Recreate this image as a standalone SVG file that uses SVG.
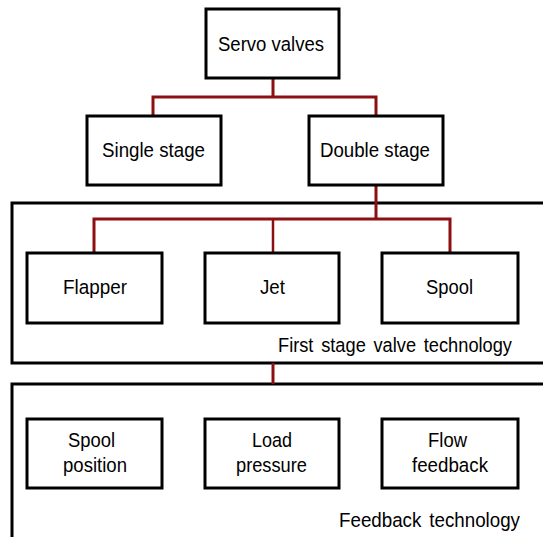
<svg xmlns="http://www.w3.org/2000/svg" width="543" height="537" viewBox="0 0 543 537">
  <style>
    .box { fill: #ffffff; stroke: #000000; stroke-width: 3; }
    .frame { fill: none; stroke: #000000; stroke-width: 3; }
    .link { fill: none; stroke: #8c1010; stroke-width: 3; stroke-linejoin: miter; }
    .lbl { font-family: "Liberation Sans", Arial, sans-serif; font-size: 20.5px; fill: #000000; text-anchor: middle; }
    .cap { font-family: "Liberation Sans", Arial, sans-serif; font-size: 20.5px; fill: #000000; text-anchor: start; word-spacing: 3px; }
  </style>
  <rect width="543" height="537" fill="#ffffff"/>

  <!-- group frames -->
  <g id="first-stage-frame">
    <rect class="frame" x="12" y="203" width="545" height="160"/>
    <text class="cap" x="278" y="352" textLength="234" lengthAdjust="spacingAndGlyphs">First stage valve technology</text>
  </g>
  <g id="feedback-frame">
    <rect class="frame" x="12" y="384" width="545" height="200"/>
    <text class="cap" x="339" y="527" textLength="181" lengthAdjust="spacingAndGlyphs">Feedback technology</text>
  </g>

  <!-- connectors -->
  <g id="connectors">
    <path class="link" d="M273 78 V97 M153 116 V97 H376 V116"/>
    <path class="link" d="M376 185 V219 M94 253 V219 H450 V253"/>
    <path class="link" d="M273 219 V253" style="stroke-width:2.5"/>
    <path class="link" d="M273 363 V384"/>
  </g>

  <g id="servo-valves">
    <rect class="box" x="206" y="9" width="133" height="69"/>
    <text class="lbl" x="271" y="51" textLength="106" lengthAdjust="spacingAndGlyphs">Servo valves</text>
  </g>
  <g id="single-stage">
    <rect class="box" x="87" y="116" width="134" height="69"/>
    <text class="lbl" x="153.5" y="157" textLength="103" lengthAdjust="spacingAndGlyphs">Single stage</text>
  </g>
  <g id="double-stage">
    <rect class="box" x="309" y="116" width="134" height="69"/>
    <text class="lbl" x="375" y="157" textLength="110" lengthAdjust="spacingAndGlyphs">Double stage</text>
  </g>

  <g id="flapper">
    <rect class="box" x="27" y="253" width="135" height="70"/>
    <text class="lbl" x="95" y="294" textLength="64" lengthAdjust="spacingAndGlyphs">Flapper</text>
  </g>
  <g id="jet">
    <rect class="box" x="205" y="253" width="134" height="70"/>
    <text class="lbl" x="272.5" y="294" textLength="25" lengthAdjust="spacingAndGlyphs">Jet</text>
  </g>
  <g id="spool">
    <rect class="box" x="382" y="253" width="136" height="70"/>
    <text class="lbl" x="449.5" y="294" textLength="47" lengthAdjust="spacingAndGlyphs">Spool</text>
  </g>

  <g id="spool-position">
    <rect class="box" x="27" y="419" width="135" height="69"/>
    <text class="lbl" x="91.5" y="447" textLength="47" lengthAdjust="spacingAndGlyphs">Spool</text>
    <text class="lbl" x="95" y="472" textLength="64" lengthAdjust="spacingAndGlyphs">position</text>
  </g>
  <g id="load-pressure">
    <rect class="box" x="205" y="419" width="134" height="69"/>
    <text class="lbl" x="272" y="447" textLength="40" lengthAdjust="spacingAndGlyphs">Load</text>
    <text class="lbl" x="271.5" y="472" textLength="71" lengthAdjust="spacingAndGlyphs">pressure</text>
  </g>
  <g id="flow-feedback">
    <rect class="box" x="382" y="419" width="136" height="69"/>
    <text class="lbl" x="447.5" y="447" textLength="39" lengthAdjust="spacingAndGlyphs">Flow</text>
    <text class="lbl" x="450" y="472" textLength="76" lengthAdjust="spacingAndGlyphs">feedback</text>
  </g>
</svg>
